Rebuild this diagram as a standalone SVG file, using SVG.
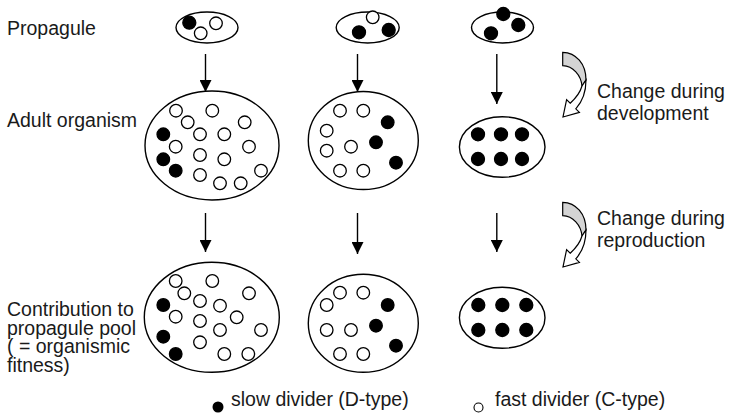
<svg xmlns="http://www.w3.org/2000/svg" width="730" height="418" viewBox="0 0 730 418">
<defs>
<style>
.cell{stroke:#000;stroke-width:1.3}
.o{fill:#fff}
.b{fill:#000}
.env{fill:#fff;stroke:#000;stroke-width:1.4}
.lbl{font-family:"Liberation Sans",Arial,Helvetica,sans-serif;font-size:19.5px;fill:#1a1a1a}
.arr{stroke:#000;stroke-width:1.4;fill:none}
.rib{stroke:#000;stroke-width:1.2}
</style>
<marker id="ah" viewBox="0 0 12 12" refX="12" refY="6" markerWidth="12" markerHeight="12" markerUnits="userSpaceOnUse" orient="auto">
<path d="M0,0 L12,6 L0,12 Z" fill="#000"/>
</marker>
<g id="curl">
<path class="rib" fill="#d4d4d4" d="M562.7,202.3 C576,202.5 586,214 586,230 L582,236 C581,225 573,216 562.7,215.7 Z"/>
<path class="rib" fill="#fff" d="M586,230 C586,242 582,252 575.8,258.8 L579.4,262.4 L563,267 L566.6,249.6 L570.2,253.2 C576,248 580,243 582,236 Z"/>
</g>
</defs>
<rect width="730" height="418" fill="#fff"/>

<g id="labels">
<text class="lbl" x="7" y="35">Propagule</text>
<text class="lbl" x="7" y="127">Adult organism</text>
<text class="lbl" x="7" y="316">Contribution to</text>
<text class="lbl" x="7" y="334.5">propagule pool</text>
<text class="lbl" x="7" y="353">( = organismic</text>
<text class="lbl" x="7" y="371.5">fitness)</text>
<text class="lbl" x="597" y="98">Change during</text>
<text class="lbl" x="597" y="120">development</text>
<text class="lbl" x="597" y="225">Change during</text>
<text class="lbl" x="597" y="247">reproduction</text>
</g>

<g id="connectors">
<line class="arr" x1="205.5" y1="54" x2="205.5" y2="92" marker-end="url(#ah)"/>
<line class="arr" x1="357.5" y1="54" x2="357.5" y2="92" marker-end="url(#ah)"/>
<line class="arr" x1="496.8" y1="54" x2="496.8" y2="104" marker-end="url(#ah)"/>
<line class="arr" x1="205.5" y1="213" x2="205.5" y2="252" marker-end="url(#ah)"/>
<line class="arr" x1="357.5" y1="213" x2="357.5" y2="254" marker-end="url(#ah)"/>
<line class="arr" x1="496.8" y1="213" x2="496.8" y2="252" marker-end="url(#ah)"/>
</g>

<g id="change-development"><use href="#curl" transform="translate(0,-150)"/></g>
<g id="change-reproduction"><use href="#curl"/></g>

<g id="propagule-1">
<ellipse class="env" cx="207" cy="27.5" rx="31" ry="15.5"/>
<circle class="cell b" cx="189.3" cy="22.7" r="6.5"/>
<circle class="cell o" cx="200.7" cy="33.3" r="6.3"/>
<circle class="cell o" cx="216" cy="23.3" r="6.3"/>
</g>
<g id="propagule-2">
<ellipse class="env" cx="367.7" cy="27.5" rx="31.5" ry="15.5"/>
<circle class="cell o" cx="372.7" cy="17.3" r="6.3"/>
<circle class="cell b" cx="359" cy="32.3" r="6.5"/>
<circle class="cell b" cx="388.7" cy="30" r="6.5"/>
</g>
<g id="propagule-3">
<ellipse class="env" cx="502.5" cy="27.5" rx="31" ry="15.5"/>
<circle class="cell b" cx="503.3" cy="14" r="6.5"/>
<circle class="cell b" cx="518.3" cy="25" r="6.5"/>
<circle class="cell b" cx="491" cy="33.3" r="6.5"/>
</g>

<g id="adult-1">
<ellipse class="env" cx="212" cy="145.5" rx="67" ry="54.5"/>
<circle class="cell o" cx="176" cy="110.7" r="6.3"/>
<circle class="cell o" cx="212.3" cy="110.7" r="6.3"/>
<circle class="cell o" cx="187.7" cy="122.3" r="6.3"/>
<circle class="cell o" cx="244.7" cy="122.3" r="6.3"/>
<circle class="cell b" cx="163.3" cy="134.3" r="6.3"/>
<circle class="cell o" cx="200" cy="134.3" r="6.3"/>
<circle class="cell o" cx="224.3" cy="134.3" r="6.3"/>
<circle class="cell o" cx="175.7" cy="146.7" r="6.3"/>
<circle class="cell o" cx="249" cy="146.7" r="6.3"/>
<circle class="cell o" cx="200" cy="155" r="6.3"/>
<circle class="cell b" cx="163.3" cy="159.3" r="6.3"/>
<circle class="cell o" cx="224.3" cy="159.3" r="6.3"/>
<circle class="cell b" cx="175.7" cy="170.7" r="6.3"/>
<circle class="cell o" cx="200" cy="175" r="6.3"/>
<circle class="cell o" cx="261" cy="170.7" r="6.3"/>
<circle class="cell o" cx="220" cy="183.3" r="6.3"/>
<circle class="cell o" cx="240.7" cy="183.3" r="6.3"/>
</g>
<g id="adult-2">
<ellipse class="env" cx="363.3" cy="140.5" rx="55" ry="49"/>
<circle class="cell o" cx="340" cy="110.7" r="6.3"/>
<circle class="cell o" cx="363.3" cy="110.7" r="6.3"/>
<circle class="cell b" cx="387.7" cy="122.3" r="6.3"/>
<circle class="cell o" cx="326.7" cy="130.7" r="6.3"/>
<circle class="cell b" cx="376" cy="142.3" r="6.3"/>
<circle class="cell o" cx="351" cy="146.7" r="6.3"/>
<circle class="cell o" cx="326.7" cy="150.7" r="6.3"/>
<circle class="cell b" cx="396" cy="162.7" r="6.3"/>
<circle class="cell o" cx="340" cy="170.7" r="6.3"/>
<circle class="cell o" cx="363.3" cy="170.7" r="6.3"/>
</g>
<g id="adult-3">
<ellipse class="env" cx="502.2" cy="147" rx="42.8" ry="30.3"/>
<circle class="cell b" cx="478" cy="134.3" r="6.5"/>
<circle class="cell b" cx="501" cy="134.3" r="6.5"/>
<circle class="cell b" cx="522" cy="134.3" r="6.5"/>
<circle class="cell b" cx="478" cy="159" r="6.5"/>
<circle class="cell b" cx="501" cy="159" r="6.5"/>
<circle class="cell b" cx="522" cy="159" r="6.5"/>
</g>

<g id="pool-1">
<ellipse class="env" cx="211.8" cy="317.3" rx="67.5" ry="55"/>
<circle class="cell o" cx="175.7" cy="281" r="6.3"/>
<circle class="cell o" cx="212.3" cy="281" r="6.3"/>
<circle class="cell o" cx="184.3" cy="293.3" r="6.3"/>
<circle class="cell o" cx="249" cy="293.3" r="6.3"/>
<circle class="cell b" cx="163.3" cy="305" r="6.3"/>
<circle class="cell o" cx="200" cy="301" r="6.3"/>
<circle class="cell o" cx="220" cy="305.7" r="6.3"/>
<circle class="cell o" cx="175.7" cy="316.7" r="6.3"/>
<circle class="cell o" cx="236.7" cy="317.3" r="6.3"/>
<circle class="cell o" cx="200" cy="321" r="6.3"/>
<circle class="cell o" cx="220" cy="330" r="6.3"/>
<circle class="cell o" cx="261" cy="330" r="6.3"/>
<circle class="cell b" cx="163.3" cy="336.7" r="6.3"/>
<circle class="cell o" cx="200" cy="342.3" r="6.3"/>
<circle class="cell b" cx="175.7" cy="354" r="6.3"/>
<circle class="cell o" cx="224.3" cy="354" r="6.3"/>
<circle class="cell o" cx="248.3" cy="354" r="6.3"/>
</g>
<g id="pool-2">
<ellipse class="env" cx="363.3" cy="323.3" rx="55" ry="49"/>
<circle class="cell o" cx="340" cy="292.7" r="6.3"/>
<circle class="cell o" cx="363.3" cy="292.7" r="6.3"/>
<circle class="cell o" cx="326.7" cy="305" r="6.3"/>
<circle class="cell b" cx="387.7" cy="305" r="6.3"/>
<circle class="cell b" cx="376" cy="325.7" r="6.3"/>
<circle class="cell o" cx="326.7" cy="330" r="6.3"/>
<circle class="cell o" cx="351" cy="330" r="6.3"/>
<circle class="cell b" cx="396" cy="345.7" r="6.3"/>
<circle class="cell o" cx="340" cy="354" r="6.3"/>
<circle class="cell o" cx="363.3" cy="354" r="6.3"/>
</g>
<g id="pool-3">
<ellipse class="env" cx="502.2" cy="317.8" rx="42.8" ry="30.5"/>
<circle class="cell b" cx="478.3" cy="305" r="6.5"/>
<circle class="cell b" cx="502.3" cy="305" r="6.5"/>
<circle class="cell b" cx="526.3" cy="305" r="6.5"/>
<circle class="cell b" cx="478.3" cy="330" r="6.5"/>
<circle class="cell b" cx="502.3" cy="330" r="6.5"/>
<circle class="cell b" cx="526.3" cy="330" r="6.5"/>
</g>

<g id="legend">
<circle class="b" cx="218" cy="407" r="5.5"/>
<text class="lbl" x="231" y="406">slow divider (D-type)</text>
<circle cx="478.5" cy="407.5" r="4.5" fill="#fff" stroke="#000" stroke-width="1.1"/>
<text class="lbl" x="495" y="406">fast divider (C-type)</text>
</g>
</svg>
